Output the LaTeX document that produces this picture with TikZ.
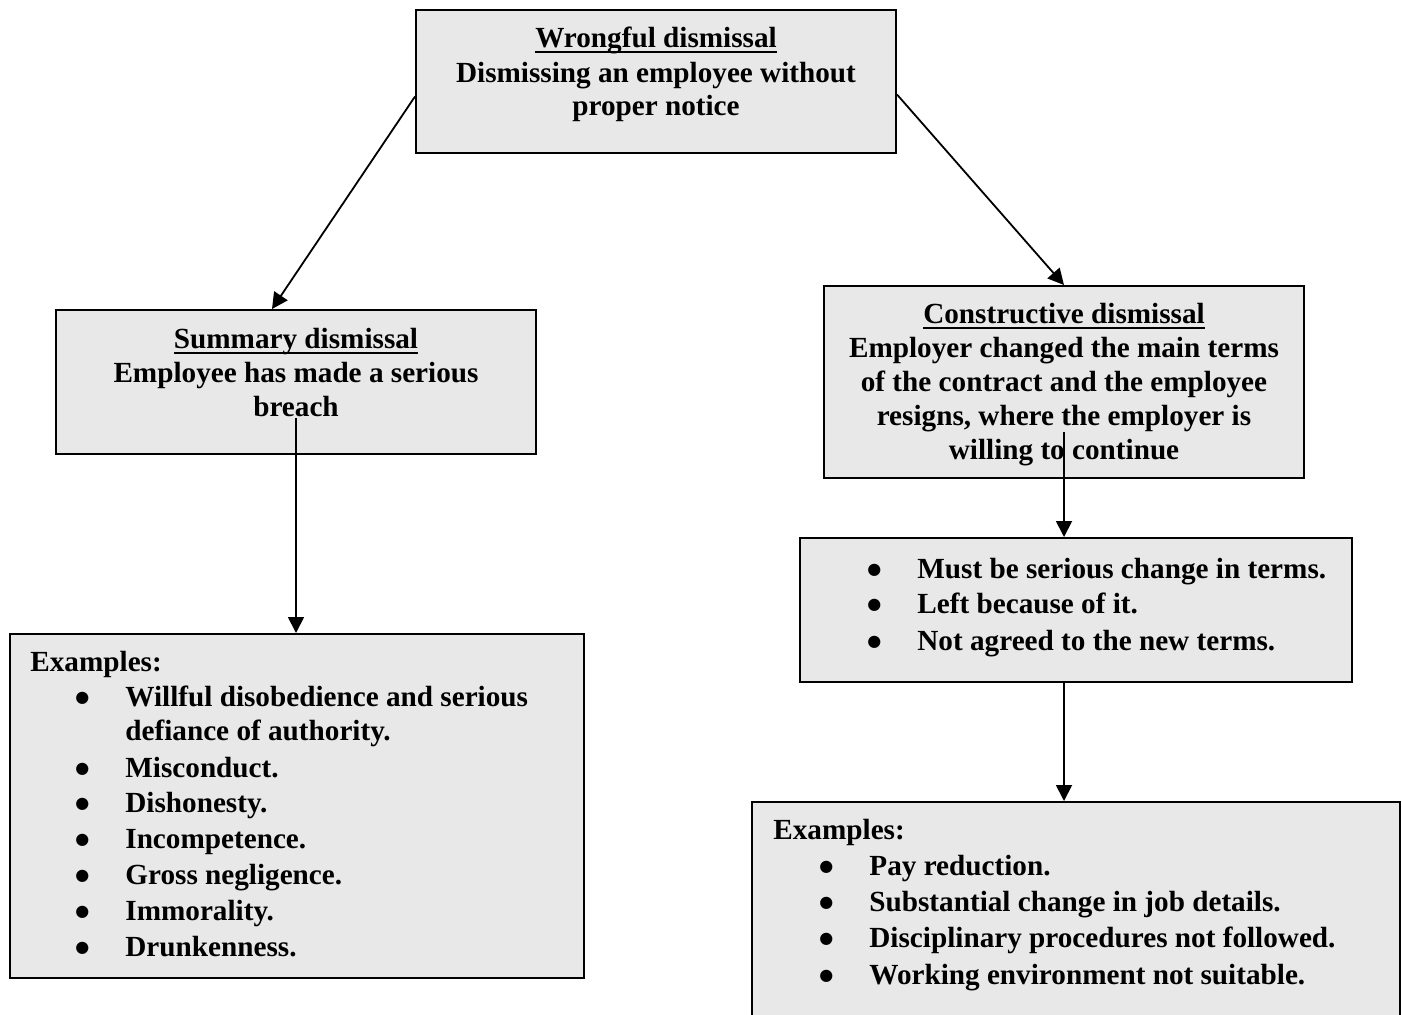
\documentclass[tikz,border=0pt]{standalone}
\usepackage{fontspec}
\setmainfont{Liberation Serif}
\newfontfamily\dejavu{DejaVu Sans}
\usetikzlibrary{arrows.meta}
\definecolor{boxgray}{RGB}{232,232,232}
\newcommand{\ulined}[1]{\setbox0\hbox{#1}\rlap{\rule[-3pt]{\wd0}{1pt}}\box0}
\newcommand{\bigbullet}{\makebox[23pt][l]{\hspace{-2pt}\raisebox{2pt}{\dejavu\fontsize{8}{10}\selectfont ●}}}
\tikzstyle{box}=[draw,line width=1pt,fill=boxgray,inner sep=0pt]
\tikzstyle{edge}=[draw,line width=0.9pt,-{Triangle[length=8pt,width=8pt]}]
\tikzstyle{txt}=[anchor=base,inner sep=0pt,font=\bfseries\fontsize{14.6}{17}\selectfont]
\tikzstyle{entry}=[txt,anchor=base west]
\begin{document}
\begin{tikzpicture}[x=0.5pt,y=-0.5pt]
	\useasboundingbox (0,0) rectangle (1402,1014);
	\clip (0,0) rectangle (1402,1014);
	
	\node[box,minimum width=240pt,minimum height=71.5pt] (top) at (656,81.5) {};
	\node[box,minimum width=240pt,minimum height=72pt] (sum) at (296,382) {};
	\node[box,minimum width=240pt,minimum height=96pt] (con) at (1064,382) {};
	\node[box,minimum width=276pt,minimum height=72pt] (must) at (1076,610) {};
	\node[box,minimum width=287pt,minimum height=172pt] (exl) at (297,806) {};
	\node[box,minimum width=324pt,minimum height=120pt] (exr) at (1076,922) {};
	
	\foreach \y/\txt [count=\i] in {47/{\ulined{Wrongful dismissal}},82/{Dismissing an employee without},115/{proper notice}}
	\node[txt] (top\i) at (656,\y) {\txt};
	\foreach \y/\txt [count=\i] in {348/{\ulined{Summary dismissal}},382/{Employee has made a serious},416/{breach}}
	\node[txt] (sum\i) at (296,\y) {\txt};
	\foreach \y/\txt [count=\i] in {323/{\ulined{Constructive dismissal}},357/{Employer changed the main terms},391/{of the contract and the employee},425/{resigns, where the employer is},459/{willing to continue}}
	\node[txt] (con\i) at (1064,\y) {\txt};
	
	% bullet lists
	\foreach \y/\txt [count=\i] in {578/{Must be serious change in terms.},613/{Left because of it.},650/{Not agreed to the new terms.}}
	\node[entry] (must\i) at (871,\y) {\bigbullet\txt};
	
	\node[entry] (exlhead) at (30,671) {Examples:};
	\foreach \y/\txt [count=\i] in {706/{Willful disobedience and serious},777/{Misconduct.},812/{Dishonesty.},848/{Incompetence.},884/{Gross negligence.},920/{Immorality.},956/{Drunkenness.}}
	\node[entry] (exl\i) at (79,\y) {\bigbullet\txt};
	\node[entry] (exlwrap) at (125,740) {defiance of authority.};
	
	\node[entry] (exrhead) at (773,839) {Examples:};
	\foreach \y/\txt [count=\i] in {875/{Pay reduction.},911/{Substantial change in job details.},947/{Disciplinary procedures not followed.},984/{Working environment not suitable.}}
	\node[entry] (exr\i) at (823,\y) {\bigbullet\txt};
	
	\path[edge] ([yshift=-7.5pt]top.west) -- ([xshift=-12pt]sum.north);
	\path[edge] ([yshift=-6.5pt]top.east) -- (con.north);
	\path[edge] ([yshift=-18pt]sum.center) -- ([xshift=-0.5pt]exl.north);
	\path[edge] ([yshift=-25pt]con.center) -- ([xshift=-6pt]must.north);
	\path[edge] ([xshift=-6pt]must.south) -- ([xshift=-6pt]exr.north);
\end{tikzpicture}
\end{document}
